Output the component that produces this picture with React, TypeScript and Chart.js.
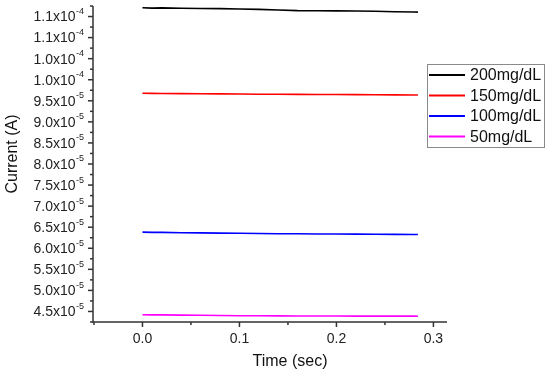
import { useEffect, useRef } from 'react';
import { Chart, registerables } from 'chart.js';

Chart.register(...registerables);

const timeSec = [0, 0.01, 0.02, 0.04, 0.06, 0.08, 0.10, 0.12, 0.14, 0.16, 0.18, 0.20, 0.22, 0.24, 0.26, 0.28, 0.284];
const current200 = [11.71e-5, 11.70e-5, 11.705e-5, 11.695e-5, 11.69e-5, 11.688e-5, 11.68e-5, 11.67e-5, 11.655e-5, 11.64e-5, 11.638e-5, 11.635e-5, 11.63e-5, 11.625e-5, 11.615e-5, 11.608e-5, 11.605e-5];
const current150 = [9.68e-5, 9.676e-5, 9.674e-5, 9.67e-5, 9.668e-5, 9.664e-5, 9.66e-5, 9.657e-5, 9.655e-5, 9.652e-5, 9.65e-5, 9.648e-5, 9.646e-5, 9.644e-5, 9.641e-5, 9.638e-5, 9.636e-5];
const current100 = [6.382e-5, 6.378e-5, 6.376e-5, 6.37e-5, 6.365e-5, 6.36e-5, 6.356e-5, 6.35e-5, 6.346e-5, 6.343e-5, 6.34e-5, 6.338e-5, 6.336e-5, 6.333e-5, 6.33e-5, 6.328e-5, 6.326e-5];
const current50 = [4.422e-5, 4.42e-5, 4.418e-5, 4.414e-5, 4.41e-5, 4.405e-5, 4.4e-5, 4.397e-5, 4.395e-5, 4.393e-5, 4.392e-5, 4.391e-5, 4.39e-5, 4.39e-5, 4.389e-5, 4.389e-5, 4.388e-5];

const seriesLabels = ['200mg/dL', '150mg/dL', '100mg/dL', '50mg/dL'];
const seriesColors = ['#000000', '#ff0000', '#0000ff', '#ff00ff'];

const yMajorTicks = [4.5e-5, 5.0e-5, 5.5e-5, 6.0e-5, 6.5e-5, 7.0e-5, 7.5e-5, 8.0e-5, 8.5e-5, 9.0e-5, 9.5e-5, 10.0e-5, 10.5e-5, 11.0e-5, 11.5e-5];
const yTickMantissa = ['4.5', '5.0', '5.5', '6.0', '6.5', '7.0', '7.5', '8.0', '8.5', '9.0', '9.5', '1.0', '1.0', '1.1', '1.1'];
const yTickExponent = ['-5', '-5', '-5', '-5', '-5', '-5', '-5', '-5', '-5', '-5', '-5', '-4', '-4', '-4', '-4'];
const yMinorTicks = [4.25e-5, 4.75e-5, 5.25e-5, 5.75e-5, 6.25e-5, 6.75e-5, 7.25e-5, 7.75e-5, 8.25e-5, 8.75e-5, 9.25e-5, 9.75e-5, 10.25e-5, 10.75e-5, 11.25e-5, 11.75e-5];
const xMajorTicks = [0, 0.1, 0.2, 0.3];
const xTickLabels = ['0.0', '0.1', '0.2', '0.3'];
const xMinorTicks = [-0.05, 0.05, 0.15, 0.25];

const xTitle = 'Time (sec)';
const yTitle = 'Current (A)';

const FONT = '"Liberation Sans", Arial, sans-serif';

const axesPlugin = {
  id: 'originAxes',
  afterDraw(chart: any) {
    const ctx = chart.ctx as CanvasRenderingContext2D;
    const { left, right, top, bottom } = chart.chartArea;
    const xs = chart.scales.x;
    const ys = chart.scales.y;
    ctx.save();
    ctx.strokeStyle = '#333333';
    ctx.lineWidth = 1.5;
    ctx.beginPath();
    ctx.moveTo(left, top);
    ctx.lineTo(left, bottom);
    ctx.lineTo(right, bottom);
    ctx.stroke();

    const seg = (x1: number, y1: number, x2: number, y2: number) => {
      ctx.beginPath();
      ctx.moveTo(x1, y1);
      ctx.lineTo(x2, y2);
      ctx.stroke();
    };
    yMajorTicks.forEach((v) => {
      const p = ys.getPixelForValue(v);
      seg(left - 5, p, left, p);
    });
    yMinorTicks.forEach((v) => {
      const p = ys.getPixelForValue(v);
      if (p >= top - 0.5 && p <= bottom + 0.5) seg(left - 3, p, left, p);
    });
    xMajorTicks.forEach((v) => {
      const p = xs.getPixelForValue(v);
      seg(p, bottom, p, bottom + 5);
    });
    xMinorTicks.forEach((v) => {
      const p = xs.getPixelForValue(v);
      if (p >= left - 0.5 && p <= right + 0.5) seg(p, bottom, p, bottom + 3);
    });

    ctx.fillStyle = '#222222';
    // y tick labels with superscript exponent
    yMajorTicks.forEach((v, i) => {
      const p = ys.getPixelForValue(v);
      const mant = yTickMantissa[i] + 'x10';
      ctx.font = `9px ${FONT}`;
      const ew = ctx.measureText(yTickExponent[i]).width;
      const rightEdge = left - 9;
      ctx.textAlign = 'right';
      ctx.textBaseline = 'middle';
      ctx.fillText(yTickExponent[i], rightEdge, p - 5);
      ctx.font = `14px ${FONT}`;
      ctx.fillText(mant, rightEdge - ew - 0.5, p + 1);
    });
    // x tick labels
    ctx.font = `14px ${FONT}`;
    ctx.textAlign = 'center';
    ctx.textBaseline = 'middle';
    xMajorTicks.forEach((v, i) => {
      const p = xs.getPixelForValue(v);
      ctx.fillText(xTickLabels[i], p, bottom + 17);
    });

    // axis titles
    ctx.fillStyle = '#111111';
    ctx.font = `16px ${FONT}`;
    ctx.fillText(xTitle, (left + right) / 2 + 20, bottom + 40);
    ctx.save();
    ctx.translate(13, 154);
    ctx.rotate(-Math.PI / 2);
    ctx.fillText(yTitle, 0, 0);
    ctx.restore();

    // legend box
    const bx = 427, by = 64, bw = 117, bh = 83;
    ctx.strokeStyle = '#8a8a8a';
    ctx.lineWidth = 1;
    ctx.strokeRect(bx + 0.5, by + 0.5, bw, bh);
    ctx.font = `16px ${FONT}`;
    ctx.textAlign = 'left';
    ctx.textBaseline = 'middle';
    seriesLabels.forEach((lab, i) => {
      const ry = 75 + i * 20.5;
      ctx.strokeStyle = seriesColors[i];
      ctx.lineWidth = 2;
      seg(bx + 2, ry, bx + 38, ry);
      ctx.fillStyle = '#111111';
      ctx.fillText(lab, bx + 43, ry + 1);
    });
    ctx.restore();
  },
};

export default function App() {
  const ref = useRef<HTMLCanvasElement | null>(null);
  useEffect(() => {
    if (!ref.current) return;
    const allSeries = [current200, current150, current100, current50];
    const chart = new Chart(ref.current, {
      type: 'line',
      data: {
        datasets: allSeries.map((s, i) => ({
          label: seriesLabels[i],
          data: s.map((y, j) => ({ x: timeSec[j], y })),
          borderColor: seriesColors[i],
          backgroundColor: seriesColors[i],
          borderWidth: 1.6,
          pointRadius: 0,
          tension: 0,
          fill: false,
        })),
      },
      options: {
        animation: false,
        responsive: false,
        maintainAspectRatio: false,
        layout: { padding: { left: 0, top: 6, right: 103, bottom: 0 } },
        plugins: { legend: { display: false }, tooltip: { enabled: false } },
        scales: {
          x: {
            type: 'linear',
            min: -0.051,
            max: 0.314,
            grid: { display: false },
            border: { display: false },
            ticks: { display: false },
            afterFit: (s: any) => { s.height = 55; },
          },
          y: {
            type: 'linear',
            min: 4.25e-5,
            max: 11.75e-5,
            grid: { display: false },
            border: { display: false },
            ticks: { display: false },
            afterFit: (s: any) => { s.width = 93; },
          },
        },
      },
      plugins: [axesPlugin],
    });
    return () => chart.destroy();
  }, []);
  return (
    <div style={{ position: 'fixed', left: 0, top: 0, width: 550, height: 377, background: '#fff' }}>
      <canvas ref={ref} width={550} height={377} style={{ width: 550, height: 377 }} />
    </div>
  );
}
